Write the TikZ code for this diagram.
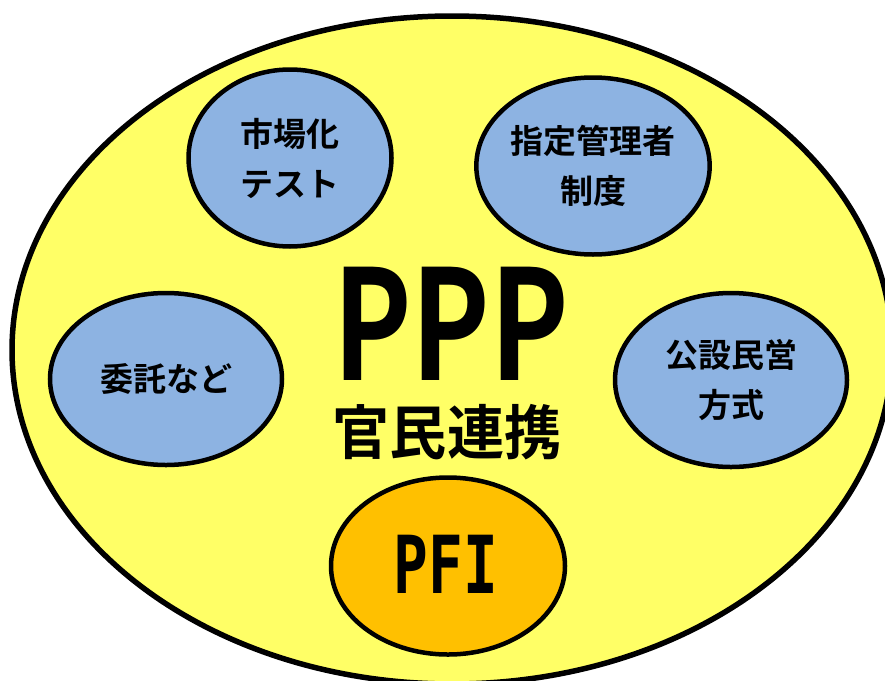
\documentclass[tikz,border=0pt]{standalone}
\usepackage{fontspec}
\setmainfont{Noto Sans CJK JP}[BoldFont={* Bold}]
\newfontfamily\jp{Noto Sans CJK JP}[BoldFont={* Bold}]
\newfontfamily\pfifont{DejaVu Sans Mono}[BoldFont={* Bold}]
\usetikzlibrary{shapes.geometric}
\definecolor{bigyellow}{HTML}{FFFF66}
\definecolor{smallblue}{HTML}{8DB3E2}
\definecolor{pfiorange}{HTML}{FFC000}
\tikzset{
  bigell/.style={ellipse, draw=black, line width=5.5pt, fill=bigyellow, inner sep=0pt},
  smallell/.style={ellipse, draw=black, line width=4.5pt, fill=smallblue, inner sep=0pt, align=center,
    font=\jp\bfseries\fontsize{33}{50}\selectfont},
  pfiell/.style={ellipse, draw=black, line width=4.5pt, fill=pfiorange, inner sep=0pt},
  lbl/.style={inner sep=0pt, text=black}
}
\begin{document}
\begin{tikzpicture}[x=1pt,y=-1pt]
\useasboundingbox (0,0) rectangle (885,680);
\clip (0,0) rectangle (885,680);
\fill[white] (0,0) rectangle (885,680);
\node[bigell, minimum width=880pt, minimum height=668pt] (outer) at (452,350) {};
\node[smallell, minimum width=203pt, minimum height=177pt] (shijo) at (290,158) {市場化\\テスト};
\node[smallell, minimum width=232pt, minimum height=177pt] (shitei) at (593,166) {指定管理者\\制度};
\node[smallell, minimum width=232pt, minimum height=172pt] (itaku) at (166,379) {委託など};
\node[smallell, minimum width=232pt, minimum height=174pt] (kosetsu) at (731,380) {公設民営\\方式};
\node[pfiell, minimum width=234pt, minimum height=177pt] (pfi) at (448,566) {};
\node[lbl, font=\pfifont\bfseries\fontsize{80}{80}\selectfont] (pfitext) at (446,564) {\scalebox{0.72}[1]{PFI}};
\node[lbl, font=\jp\bfseries\fontsize{153}{153}\selectfont] (ppp) at (451,324) {\scalebox{0.77}[1]{PPP}};
\node[lbl, font=\jp\bfseries\fontsize{59}{59}\selectfont] (kanmin) at (447,432) {\scalebox{0.97}[1]{官民連携}};
\end{tikzpicture}
\end{document}
